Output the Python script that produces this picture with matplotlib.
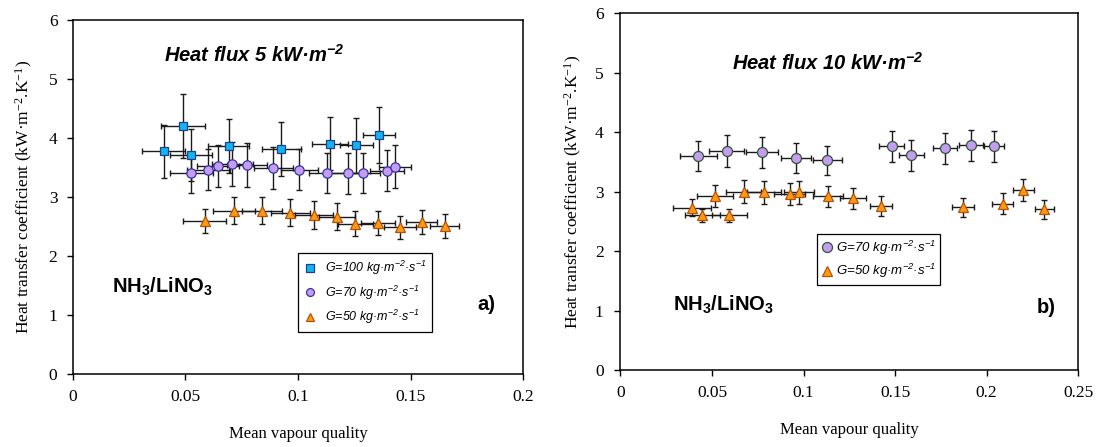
import matplotlib
matplotlib.use("Agg")
import matplotlib.pyplot as plt

plt.rcParams['font.family'] = 'Liberation Serif'
plt.rcParams['mathtext.default'] = 'regular'

# a) heat flux 5 kW/m2
a_g100_x = [0.0404, 0.0490, 0.0525, 0.0692, 0.0926, 0.1142, 0.1258, 0.1358]
a_g100_y = [3.77, 4.20, 3.71, 3.86, 3.81, 3.90, 3.87, 4.05]
a_g100_xerr = [0.0095, 0.0099, 0.0094, 0.0090, 0.0087, 0.0080, 0.0074, 0.0071]
a_g100_yerr = [0.45, 0.54, 0.44, 0.46, 0.46, 0.45, 0.46, 0.48]

a_g70_x = [0.0527, 0.0602, 0.0645, 0.0709, 0.0774, 0.0891, 0.1006, 0.1129, 0.1222, 0.1289, 0.1395, 0.1431]
a_g70_y = [3.40, 3.46, 3.52, 3.56, 3.54, 3.49, 3.46, 3.40, 3.40, 3.40, 3.44, 3.51]
a_g70_xerr = [0.0097, 0.0095, 0.0093, 0.0091, 0.0089, 0.0086, 0.0083, 0.0080, 0.0078, 0.0076, 0.0074, 0.0072]
a_g70_yerr = [0.34, 0.35, 0.36, 0.37, 0.37, 0.36, 0.35, 0.34, 0.35, 0.34, 0.35, 0.36]

a_g50_x = [0.0586, 0.0716, 0.0840, 0.0966, 0.1070, 0.1172, 0.1255, 0.1355, 0.1453, 0.1549, 0.1651]
a_g50_y = [2.59, 2.76, 2.76, 2.73, 2.69, 2.66, 2.54, 2.55, 2.48, 2.57, 2.50]
a_g50_xerr = [0.0096, 0.0094, 0.0090, 0.0086, 0.0083, 0.0080, 0.0077, 0.0074, 0.0071, 0.0068, 0.0064]
a_g50_yerr = [0.21, 0.23, 0.23, 0.23, 0.23, 0.23, 0.21, 0.20, 0.20, 0.20, 0.20]

# b) heat flux 10 kW/m2
b_g70_x = [0.0425, 0.0580, 0.0775, 0.0957, 0.1130, 0.1482, 0.1589, 0.1773, 0.1914, 0.2041]
b_g70_y = [3.60, 3.68, 3.66, 3.57, 3.53, 3.76, 3.61, 3.73, 3.78, 3.76]
b_g70_xerr = [0.0100, 0.0095, 0.0088, 0.0082, 0.0078, 0.0069, 0.0069, 0.0066, 0.0067, 0.0056]
b_g70_yerr = [0.255, 0.27, 0.26, 0.25, 0.245, 0.26, 0.255, 0.26, 0.265, 0.26]

b_g50_x = [0.0391, 0.0447, 0.0518, 0.0595, 0.0673, 0.0784, 0.0925, 0.0975, 0.1134, 0.1270,
           0.1425, 0.1873, 0.2088, 0.2201, 0.2316]
b_g50_y = [2.73, 2.60, 2.92, 2.60, 3.00, 2.99, 2.96, 2.99, 2.92, 2.89, 2.76, 2.74, 2.80, 3.03, 2.70]
b_g50_xerr = [0.0102, 0.0097, 0.0098, 0.0094, 0.0096, 0.0094, 0.0085, 0.0081, 0.0080, 0.0071,
              0.0061, 0.0061, 0.0058, 0.0056, 0.0052]
b_g50_yerr = [0.14, 0.115, 0.185, 0.11, 0.196, 0.196, 0.19, 0.19, 0.18, 0.175, 0.17, 0.16, 0.17, 0.19, 0.16]

lab100 = 'G=100 kg·m$^{-2}$·s$^{-1}$'
lab70 = 'G=70 kg·m$^{-2}$·s$^{-1}$'
lab50 = 'G=50 kg·m$^{-2}$·s$^{-1}$'

sq = dict(marker='s', ms=6.3, mfc='#12B5F0', mec='#1F3F8F', mew=0.9)
circ_a = dict(marker='o', ms=6.7, mfc='#C69CF2', mec='#3535A0', mew=0.9)
circ_b = dict(marker='o', ms=7.2, mfc='#C69CF2', mec='#2E5A2E', mew=0.9)
tri = dict(marker='^', ms=6.8, mfc='#FF9A10', mec='#B5520A', mew=0.9)
eb = dict(fmt='none', ecolor='#1a1a1a', elinewidth=1, capsize=2.3, capthick=1)

fig = plt.figure(figsize=(10.99, 4.47), dpi=100)
ax1 = fig.add_axes([0.0662, 0.1644, 0.410, 0.791])
ax2 = fig.add_axes([0.5646, 0.1723, 0.4163, 0.798])


def style(ax, xmax, xticks, xlabels, ypad, ylabpad):
    ax.set_xlim(0, xmax)
    ax.set_ylim(0, 6)
    ax.set_xticks(xticks)
    ax.set_xticklabels(xlabels)
    ax.set_yticks(range(7))
    ax.tick_params(direction='out', length=4, width=1, labelsize=12.5)
    ax.tick_params(axis='x', pad=7)
    ax.tick_params(axis='y', pad=ypad)
    for s in ax.spines.values():
        s.set_linewidth(1.1)
    ax.set_xlabel('Mean vapour quality', fontsize=12, labelpad=15)
    ax.set_ylabel('Heat transfer coefficient (kW·m$^{-2}$.K$^{-1}$)', fontsize=12.5, labelpad=ylabpad)


# panel a
ax1.errorbar(a_g100_x, a_g100_y, xerr=a_g100_xerr, yerr=a_g100_yerr, **eb)
ax1.errorbar(a_g70_x, a_g70_y, xerr=a_g70_xerr, yerr=a_g70_yerr, **eb)
ax1.errorbar(a_g50_x, a_g50_y, xerr=a_g50_xerr, yerr=a_g50_yerr, **eb)
ax1.plot(a_g100_x, a_g100_y, ls='none', label=lab100, zorder=3, **sq)
ax1.plot(a_g70_x, a_g70_y, ls='none', label=lab70, zorder=3, **circ_a)
ax1.plot(a_g50_x, a_g50_y, ls='none', label=lab50, zorder=3, **tri)
style(ax1, 0.2, [0, 0.05, 0.1, 0.15, 0.2], ['0', '0.05', '0.1', '0.15', '0.2'], 7, 10)
ax1.text(0.203, 0.90, 'Heat flux 5 kW·m$^{-2}$', transform=ax1.transAxes, family='Liberation Sans',
         fontsize=14.5, fontweight='bold', style='italic', va='center')
ax1.text(0.087, 0.245, 'NH$_3$/LiNO$_3$', transform=ax1.transAxes, family='Liberation Sans',
         fontsize=14.5, fontweight='bold', va='center')
ax1.text(0.937, 0.194, 'a)', transform=ax1.transAxes, family='Liberation Sans',
         fontsize=14.5, fontweight='bold', va='center', ha='right')
leg1 = ax1.legend(loc='upper left', bbox_to_anchor=(0.501, 0.340), numpoints=1, markerscale=0.85,
                  prop={'family': 'Liberation Sans', 'style': 'italic', 'size': 9},
                  frameon=True, fancybox=False, edgecolor='black', framealpha=1,
                  handlelength=1.0, handletextpad=0.7, labelspacing=0.5, borderpad=0.45,
                  borderaxespad=0)
leg1.get_frame().set_linewidth(0.9)

# panel b
ax2.errorbar(b_g70_x, b_g70_y, xerr=b_g70_xerr, yerr=b_g70_yerr, **eb)
ax2.errorbar(b_g50_x, b_g50_y, xerr=b_g50_xerr, yerr=b_g50_yerr, **eb)
ax2.plot(b_g70_x, b_g70_y, ls='none', label=lab70, zorder=3, **circ_b)
ax2.plot(b_g50_x, b_g50_y, ls='none', label=lab50, zorder=3, **tri)
style(ax2, 0.25, [0, 0.05, 0.1, 0.15, 0.2, 0.25], ['0', '0.05', '0.1', '0.15', '0.2', '0.25'], 8.2, 7.5)
ax2.text(0.244, 0.86, 'Heat flux 10 kW·m$^{-2}$', transform=ax2.transAxes, family='Liberation Sans',
         fontsize=14.5, fontweight='bold', style='italic', va='center')
ax2.text(0.114, 0.182, 'NH$_3$/LiNO$_3$', transform=ax2.transAxes, family='Liberation Sans',
         fontsize=14.5, fontweight='bold', va='center')
ax2.text(0.952, 0.174, 'b)', transform=ax2.transAxes, family='Liberation Sans',
         fontsize=14.5, fontweight='bold', va='center', ha='right')
leg2 = ax2.legend(loc='upper left', bbox_to_anchor=(0.429, 0.381), numpoints=1,
                  prop={'family': 'Liberation Sans', 'style': 'italic', 'size': 9.5},
                  frameon=True, fancybox=False, edgecolor='black', framealpha=1,
                  handlelength=0.8, handletextpad=0.3, labelspacing=0.4, borderpad=0.35,
                  borderaxespad=0)
leg2.get_frame().set_linewidth(0.9)

fig.savefig('out.png', dpi=100)
